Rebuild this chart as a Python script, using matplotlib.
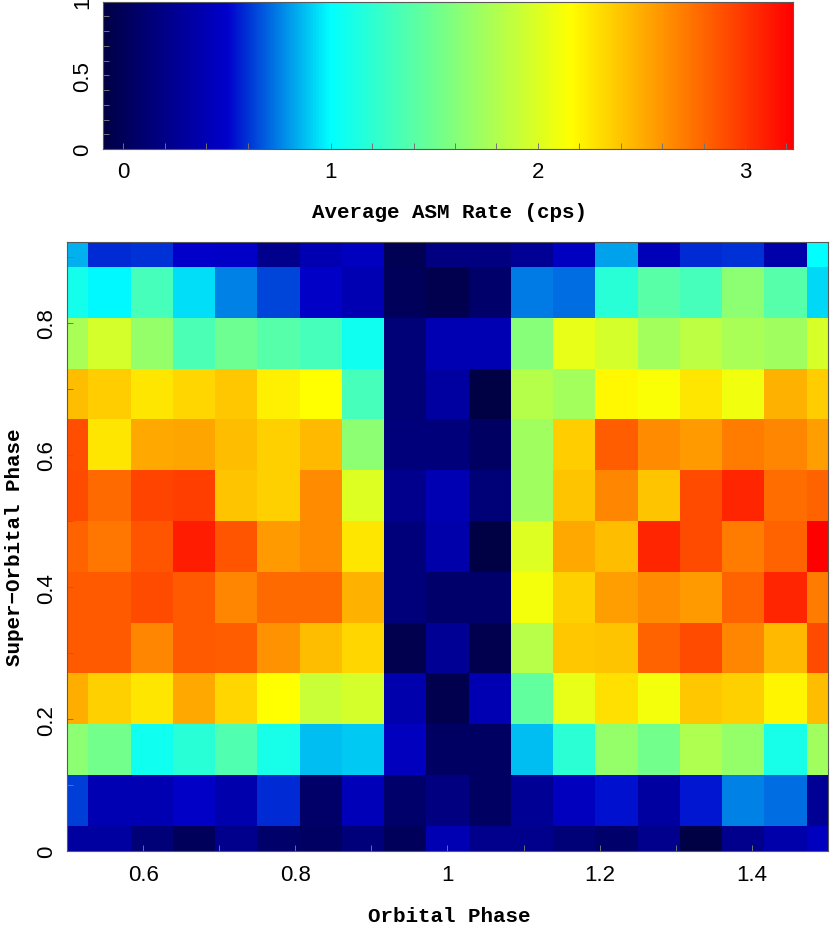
import numpy as np
import matplotlib
matplotlib.use("Agg")
import matplotlib.pyplot as plt
from matplotlib.colors import LinearSegmentedColormap
from matplotlib.ticker import MultipleLocator

# DATOS
# centros de los bins de fase orbital (0.5 .. 1.5)
fase_orbital = [0.5000, 0.5556, 0.6111, 0.6667, 0.7222, 0.7778, 0.8333, 0.8889,
                0.9444, 1.0000, 1.0556, 1.1111, 1.1667, 1.2222, 1.2778, 1.3333,
                1.3889, 1.4444, 1.5000]
# centros de los bins de fase super-orbital
fase_super = [0.0000, 0.0769, 0.1538, 0.2308, 0.3077, 0.3846, 0.4615,
              0.5385, 0.6154, 0.6923, 0.7692, 0.8462, 0.9231]
# tasa media ASM (cps), una fila por fase super-orbital (de abajo hacia arriba)
tasa = [
    [0.31, 0.31, 0.13, 0.00, 0.22, 0.08, 0.04, 0.15, 0.00, 0.39, 0.22, 0.22, 0.13, 0.08, 0.22, -0.09, 0.22, 0.35, 0.44],
    [0.62, 0.39, 0.39, 0.48, 0.37, 0.58, 0.06, 0.42, 0.08, 0.17, 0.04, 0.26, 0.44, 0.54, 0.31, 0.55, 0.75, 0.72, 0.26],
    [1.64, 1.52, 1.07, 1.18, 1.36, 1.11, 0.87, 0.90, 0.44, 0.04, 0.04, 0.87, 1.20, 1.68, 1.52, 1.80, 1.68, 1.11, 1.73],
    [2.50, 2.35, 2.27, 2.52, 2.33, 2.16, 1.91, 1.96, 0.37, -0.05, 0.39, 1.45, 2.05, 2.29, 2.11, 2.39, 2.35, 2.20, 2.43],
    [2.85, 2.85, 2.67, 2.85, 2.83, 2.62, 2.43, 2.33, -0.05, 0.26, -0.05, 1.84, 2.39, 2.41, 2.81, 2.92, 2.67, 2.45, 2.92],
    [2.85, 2.85, 2.92, 2.85, 2.67, 2.79, 2.79, 2.48, 0.15, 0.08, 0.08, 2.11, 2.35, 2.56, 2.64, 2.58, 2.81, 3.07, 2.71],
    [2.81, 2.73, 2.88, 3.11, 2.88, 2.58, 2.64, 2.27, 0.15, 0.35, -0.09, 2.00, 2.52, 2.43, 3.07, 2.92, 2.71, 2.81, 3.23],
    [2.92, 2.79, 2.94, 2.96, 2.41, 2.35, 2.64, 2.00, 0.22, 0.39, 0.13, 1.73, 2.41, 2.67, 2.41, 2.92, 3.07, 2.77, 2.81],
    [2.90, 2.27, 2.52, 2.54, 2.43, 2.35, 2.45, 1.64, 0.15, 0.15, 0.04, 1.73, 2.37, 2.83, 2.64, 2.58, 2.71, 2.67, 2.56],
    [2.43, 2.37, 2.27, 2.33, 2.39, 2.22, 2.16, 1.32, 0.13, 0.31, -0.09, 1.82, 1.75, 2.19, 2.14, 2.27, 2.09, 2.48, 2.37],
    [1.77, 1.96, 1.68, 1.34, 1.50, 1.39, 1.32, 1.07, 0.13, 0.39, 0.39, 1.61, 2.05, 1.96, 1.75, 1.86, 1.77, 1.73, 1.98],
    [1.09, 0.99, 1.32, 0.94, 0.75, 0.64, 0.48, 0.39, 0.00, -0.05, 0.08, 0.74, 0.72, 1.18, 1.41, 1.32, 1.64, 1.39, 0.92],
    [0.85, 0.58, 0.60, 0.50, 0.48, 0.22, 0.39, 0.44, -0.03, 0.17, 0.17, 0.26, 0.46, 0.82, 0.42, 0.58, 0.60, 0.35, 1.00],
]
vmin, vmax = -0.097, 3.233

# mapa de color tipo "jet" con azul oscuro al inicio
cmap = LinearSegmentedColormap.from_list("asm", [
    (0.000, (0.0, 0.0, 0.27)),
    (0.179, (0.0, 0.0, 0.80)),
    (0.329, (0.0, 1.0, 1.0)),
    (0.504, (0.5, 1.0, 0.5)),
    (0.678, (1.0, 1.0, 0.0)),
    (1.000, (1.0, 0.0, 0.0)),
])

fuente_eje = ["Liberation Mono", "DejaVu Sans Mono"]
plt.rcParams["font.family"] = ["Liberation Sans", "DejaVu Sans"]
plt.rcParams["font.size"] = 16

fig = plt.figure(figsize=(8.3, 9.28), dpi=100)


def estilo(ax):
    for s in ax.spines.values():
        s.set_color("0.35")
        s.set_linewidth(0.8)
    ax.tick_params(which="both", direction="in", length=4, color="0.45", width=0.7,
                   top=False, right=False)


# barra de color
cax = fig.add_axes([0.1245, 0.8384, 0.8313, 0.1587])
gradiente = np.linspace(vmin, vmax, 512).reshape(1, -1)
cax.imshow(np.vstack([gradiente, gradiente]), cmap=cmap, vmin=vmin, vmax=vmax,
           extent=[vmin, vmax, 0, 1], aspect="auto", origin="lower")
cax.set_xlim(vmin, vmax)
cax.set_ylim(0, 1)
cax.set_xticks([0, 1, 2, 3])
cax.xaxis.set_minor_locator(MultipleLocator(0.2))
cax.set_yticks([0, 0.5, 1])
cax.set_yticklabels(["0", "0.5", "1"])
cax.yaxis.set_minor_locator(MultipleLocator(0.1))
estilo(cax)
cax.tick_params(axis="x", pad=9)
cax.tick_params(axis="y", pad=7)
plt.setp(cax.get_yticklabels(), rotation=90, va="center")

# mapa de calor
ax = fig.add_axes([0.0811, 0.0816, 0.9161, 0.6569])
ax.pcolormesh(fase_orbital, fase_super, np.array(tasa), cmap=cmap,
              vmin=vmin, vmax=vmax, shading="nearest")
ax.set_xlim(0.5, 1.5)
ax.set_ylim(0, fase_super[-1])
ax.set_xticks([0.6, 0.8, 1.0, 1.2, 1.4])
ax.set_xticklabels(["0.6", "0.8", "1", "1.2", "1.4"])
ax.xaxis.set_minor_locator(MultipleLocator(0.1))
ax.set_yticks([0, 0.2, 0.4, 0.6, 0.8])
ax.set_yticklabels(["0", "0.2", "0.4", "0.6", "0.8"])
ax.yaxis.set_minor_locator(MultipleLocator(0.1))
estilo(ax)
ax.tick_params(axis="x", pad=9)
ax.tick_params(axis="y", pad=7)
plt.setp(ax.get_yticklabels(), rotation=90, va="center")

# titulos de los ejes
fig.text(0.541, 0.7705, "Average ASM Rate (cps)", ha="center", va="center",
         family=fuente_eje, fontsize=15, fontweight="bold")
fig.text(0.541, 0.0129, "Orbital Phase", ha="center", va="center",
         family=fuente_eje, fontsize=15, fontweight="bold")
fig.text(0.018, 0.41, "Super\u2212Orbital Phase", ha="center", va="center",
         rotation=90, family=fuente_eje, fontsize=15, fontweight="bold")

fig.savefig("out.png", dpi=100)
